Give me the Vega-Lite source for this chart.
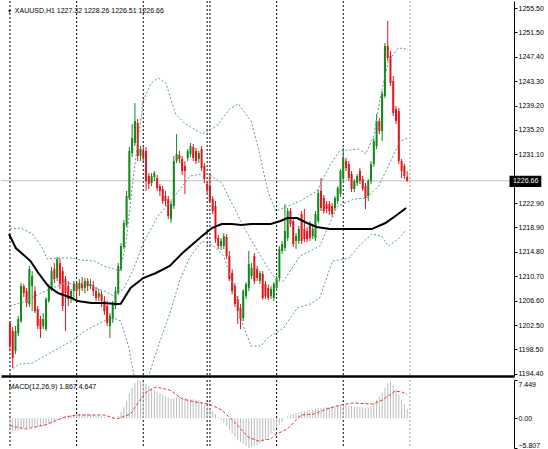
{
"$schema":"https://vega.github.io/schema/vega-lite/v6.json",
"padding":0,
"background":"white",
"spacing":2,
"config":{"view":{"stroke":null},"axis":{"labelFont":"Liberation Sans","labelFontSize":7,"labelColor":"#000000","tickColor":"#000000","domainColor":"#000000","grid":false,"title":null,"labelOverlap":false,"labelSeparation":0}},
"datasets":{
"bars":[
{"i":0,"o":1202.88,"h":1203.21,"l":1198.19,"c":1199.03,"m":-2.3},
{"i":1,"o":1201.54,"h":1202.21,"l":1195.35,"c":1197.02,"m":-2.4},
{"i":2,"o":1198.19,"h":1202.37,"l":1197.69,"c":1201.54,"m":-2.4},
{"i":3,"o":1201.20,"h":1204.05,"l":1200.70,"c":1203.54,"m":-2.3},
{"i":4,"o":1203.21,"h":1209.56,"l":1202.88,"c":1209.06,"m":-2.2},
{"i":5,"o":1209.06,"h":1209.40,"l":1207.22,"c":1207.89,"m":-2.0},
{"i":6,"o":1208.23,"h":1208.73,"l":1205.55,"c":1206.22,"m":-1.9},
{"i":7,"o":1206.05,"h":1212.41,"l":1205.55,"c":1211.90,"m":-1.8},
{"i":8,"o":1209.06,"h":1211.57,"l":1204.88,"c":1210.73,"m":-1.7},
{"i":9,"o":1208.23,"h":1209.06,"l":1204.55,"c":1204.88,"m":-1.6},
{"i":10,"o":1205.22,"h":1205.72,"l":1201.87,"c":1202.37,"m":-1.6},
{"i":11,"o":1203.54,"h":1204.05,"l":1200.37,"c":1201.87,"m":-1.6},
{"i":12,"o":1202.37,"h":1204.55,"l":1201.87,"c":1203.54,"m":-1.5},
{"i":13,"o":1201.87,"h":1207.22,"l":1201.54,"c":1206.89,"m":-1.3},
{"i":14,"o":1206.55,"h":1209.40,"l":1206.22,"c":1209.06,"m":-1.1},
{"i":15,"o":1208.56,"h":1212.24,"l":1208.23,"c":1211.57,"m":-0.9},
{"i":16,"o":1211.90,"h":1212.91,"l":1209.56,"c":1210.23,"m":-0.6},
{"i":17,"o":1210.40,"h":1213.91,"l":1209.90,"c":1213.58,"m":-0.3},
{"i":18,"o":1212.91,"h":1213.74,"l":1208.56,"c":1209.40,"m":0.0},
{"i":19,"o":1211.57,"h":1212.24,"l":1204.88,"c":1205.72,"m":0.2},
{"i":20,"o":1210.23,"h":1210.73,"l":1201.54,"c":1207.89,"m":0.4},
{"i":21,"o":1209.06,"h":1209.90,"l":1205.72,"c":1206.89,"m":0.5},
{"i":22,"o":1206.89,"h":1208.56,"l":1206.22,"c":1208.23,"m":0.6},
{"i":23,"o":1208.23,"h":1209.90,"l":1206.55,"c":1209.40,"m":0.7},
{"i":24,"o":1209.40,"h":1209.90,"l":1206.55,"c":1208.23,"m":0.8},
{"i":25,"o":1208.56,"h":1210.23,"l":1207.39,"c":1209.56,"m":0.8},
{"i":26,"o":1209.56,"h":1210.57,"l":1208.23,"c":1208.73,"m":0.8},
{"i":27,"o":1208.73,"h":1210.40,"l":1207.89,"c":1209.90,"m":0.8},
{"i":28,"o":1209.90,"h":1210.40,"l":1208.23,"c":1209.06,"m":0.8},
{"i":29,"o":1209.06,"h":1210.23,"l":1208.56,"c":1209.40,"m":0.7},
{"i":30,"o":1209.23,"h":1209.90,"l":1207.39,"c":1208.23,"m":0.7},
{"i":31,"o":1208.23,"h":1208.90,"l":1206.55,"c":1207.06,"m":0.6},
{"i":32,"o":1207.22,"h":1208.56,"l":1206.55,"c":1207.89,"m":0.5},
{"i":33,"o":1207.72,"h":1208.23,"l":1205.55,"c":1206.55,"m":0.4},
{"i":34,"o":1206.55,"h":1207.39,"l":1204.21,"c":1204.88,"m":0.3},
{"i":35,"o":1205.72,"h":1206.55,"l":1202.37,"c":1202.88,"m":0.1},
{"i":36,"o":1202.37,"h":1204.55,"l":1200.37,"c":1204.05,"m":-0.1},
{"i":37,"o":1203.54,"h":1206.55,"l":1202.88,"c":1206.05,"m":-0.2},
{"i":38,"o":1205.72,"h":1208.90,"l":1205.22,"c":1208.23,"m":0.0},
{"i":39,"o":1207.89,"h":1212.91,"l":1207.56,"c":1212.41,"m":0.5},
{"i":40,"o":1211.90,"h":1216.25,"l":1211.57,"c":1215.75,"m":1.2},
{"i":41,"o":1215.58,"h":1220.10,"l":1215.25,"c":1219.60,"m":2.2},
{"i":42,"o":1219.26,"h":1224.95,"l":1218.93,"c":1224.11,"m":3.4},
{"i":43,"o":1223.78,"h":1232.31,"l":1223.44,"c":1231.64,"m":4.8},
{"i":44,"o":1231.30,"h":1236.15,"l":1230.63,"c":1233.81,"m":5.9},
{"i":45,"o":1232.97,"h":1239.66,"l":1232.47,"c":1236.65,"m":6.8},
{"i":46,"o":1236.32,"h":1236.99,"l":1229.96,"c":1230.80,"m":7.449},
{"i":47,"o":1230.80,"h":1232.47,"l":1229.96,"c":1231.97,"m":7.3},
{"i":48,"o":1231.64,"h":1232.31,"l":1229.96,"c":1230.47,"m":7.0},
{"i":49,"o":1231.64,"h":1232.31,"l":1224.95,"c":1226.62,"m":6.7},
{"i":50,"o":1227.46,"h":1227.96,"l":1225.28,"c":1226.12,"m":6.3},
{"i":51,"o":1226.29,"h":1227.96,"l":1225.78,"c":1227.46,"m":5.9},
{"i":52,"o":1227.29,"h":1228.29,"l":1226.62,"c":1227.96,"m":5.5},
{"i":53,"o":1227.12,"h":1227.62,"l":1224.95,"c":1225.45,"m":5.2},
{"i":54,"o":1225.78,"h":1226.12,"l":1224.11,"c":1224.95,"m":4.9},
{"i":55,"o":1225.28,"h":1225.78,"l":1222.77,"c":1223.28,"m":4.6},
{"i":56,"o":1224.11,"h":1224.95,"l":1222.44,"c":1223.28,"m":4.3},
{"i":57,"o":1223.61,"h":1224.11,"l":1220.27,"c":1220.77,"m":4.0},
{"i":58,"o":1220.27,"h":1223.28,"l":1219.60,"c":1222.77,"m":3.8},
{"i":59,"o":1222.44,"h":1230.80,"l":1221.94,"c":1229.96,"m":3.9},
{"i":60,"o":1229.96,"h":1234.48,"l":1229.63,"c":1231.14,"m":4.2},
{"i":61,"o":1230.97,"h":1231.64,"l":1229.63,"c":1230.30,"m":4.3},
{"i":62,"o":1230.30,"h":1230.80,"l":1227.62,"c":1228.29,"m":4.1},
{"i":63,"o":1229.13,"h":1229.96,"l":1224.45,"c":1228.29,"m":3.9},
{"i":64,"o":1230.47,"h":1231.97,"l":1229.96,"c":1231.64,"m":3.8},
{"i":65,"o":1231.14,"h":1232.97,"l":1230.63,"c":1232.47,"m":3.8},
{"i":66,"o":1232.31,"h":1232.81,"l":1229.96,"c":1230.47,"m":3.7},
{"i":67,"o":1231.64,"h":1232.14,"l":1229.46,"c":1229.96,"m":3.6},
{"i":68,"o":1230.30,"h":1231.64,"l":1229.63,"c":1231.30,"m":3.4},
{"i":69,"o":1231.97,"h":1232.47,"l":1228.29,"c":1228.79,"m":3.1},
{"i":70,"o":1229.13,"h":1229.63,"l":1226.29,"c":1226.95,"m":2.7},
{"i":71,"o":1226.12,"h":1226.62,"l":1224.61,"c":1225.28,"m":2.3},
{"i":72,"o":1225.78,"h":1227.96,"l":1222.94,"c":1223.28,"m":1.9},
{"i":73,"o":1223.61,"h":1224.11,"l":1221.10,"c":1221.60,"m":1.4},
{"i":74,"o":1222.44,"h":1223.28,"l":1216.25,"c":1216.92,"m":0.8},
{"i":75,"o":1217.09,"h":1217.59,"l":1215.25,"c":1215.75,"m":0.2},
{"i":76,"o":1215.75,"h":1217.09,"l":1215.08,"c":1216.59,"m":-0.4},
{"i":77,"o":1215.75,"h":1217.92,"l":1215.25,"c":1217.42,"m":-0.9},
{"i":78,"o":1217.26,"h":1217.76,"l":1213.58,"c":1214.08,"m":-1.5},
{"i":79,"o":1214.08,"h":1214.92,"l":1209.90,"c":1210.23,"m":-2.3},
{"i":80,"o":1211.24,"h":1211.90,"l":1207.72,"c":1208.23,"m":-3.0},
{"i":81,"o":1209.06,"h":1209.56,"l":1205.55,"c":1206.05,"m":-3.6},
{"i":82,"o":1206.89,"h":1207.39,"l":1202.71,"c":1204.88,"m":-4.2},
{"i":83,"o":1205.38,"h":1206.05,"l":1201.87,"c":1203.54,"m":-4.7},
{"i":84,"o":1203.71,"h":1208.56,"l":1203.21,"c":1208.23,"m":-5.1},
{"i":85,"o":1207.39,"h":1209.73,"l":1206.89,"c":1209.40,"m":-5.4},
{"i":86,"o":1208.73,"h":1214.92,"l":1208.23,"c":1212.74,"m":-5.807},
{"i":87,"o":1210.73,"h":1212.91,"l":1210.23,"c":1212.07,"m":-5.6},
{"i":88,"o":1214.08,"h":1214.58,"l":1209.40,"c":1209.90,"m":-5.4},
{"i":89,"o":1211.90,"h":1212.41,"l":1209.90,"c":1210.40,"m":-5.2},
{"i":90,"o":1209.90,"h":1211.57,"l":1209.40,"c":1211.24,"m":-4.9},
{"i":91,"o":1211.07,"h":1211.57,"l":1206.72,"c":1207.06,"m":-4.6},
{"i":92,"o":1209.40,"h":1209.90,"l":1206.89,"c":1207.39,"m":-4.2},
{"i":93,"o":1208.73,"h":1209.23,"l":1206.72,"c":1207.06,"m":-3.7},
{"i":94,"o":1207.39,"h":1209.06,"l":1206.89,"c":1208.56,"m":-3.1},
{"i":95,"o":1207.06,"h":1209.73,"l":1206.55,"c":1209.40,"m":-2.5},
{"i":96,"o":1208.73,"h":1210.73,"l":1208.23,"c":1210.40,"m":-1.9},
{"i":97,"o":1210.40,"h":1215.75,"l":1209.90,"c":1215.25,"m":-1.3},
{"i":98,"o":1214.92,"h":1216.59,"l":1214.41,"c":1216.09,"m":-0.7},
{"i":99,"o":1215.42,"h":1222.77,"l":1214.92,"c":1218.26,"m":-0.1},
{"i":100,"o":1217.09,"h":1222.11,"l":1216.59,"c":1221.60,"m":0.4},
{"i":101,"o":1221.60,"h":1222.11,"l":1218.93,"c":1219.43,"m":0.6},
{"i":102,"o":1219.93,"h":1220.43,"l":1215.58,"c":1216.09,"m":0.8},
{"i":103,"o":1216.59,"h":1217.92,"l":1215.25,"c":1217.42,"m":1.0},
{"i":104,"o":1216.59,"h":1219.10,"l":1216.09,"c":1218.59,"m":1.1},
{"i":105,"o":1221.10,"h":1221.60,"l":1216.09,"c":1216.59,"m":1.3},
{"i":106,"o":1218.59,"h":1221.94,"l":1216.42,"c":1216.92,"m":1.4},
{"i":107,"o":1218.26,"h":1218.93,"l":1216.42,"c":1216.92,"m":1.5},
{"i":108,"o":1219.43,"h":1219.93,"l":1216.59,"c":1217.09,"m":1.6},
{"i":109,"o":1217.42,"h":1219.10,"l":1216.92,"c":1218.59,"m":1.7},
{"i":110,"o":1217.09,"h":1221.60,"l":1216.59,"c":1221.10,"m":1.8},
{"i":111,"o":1219.93,"h":1225.12,"l":1219.60,"c":1224.61,"m":1.9},
{"i":112,"o":1224.95,"h":1227.12,"l":1221.60,"c":1222.11,"m":2.0},
{"i":113,"o":1223.78,"h":1224.28,"l":1221.10,"c":1221.60,"m":2.1},
{"i":114,"o":1222.77,"h":1223.28,"l":1221.27,"c":1221.94,"m":2.2},
{"i":115,"o":1222.77,"h":1223.28,"l":1220.93,"c":1221.60,"m":2.2},
{"i":116,"o":1222.44,"h":1222.94,"l":1220.60,"c":1221.10,"m":2.3},
{"i":117,"o":1222.11,"h":1224.11,"l":1221.60,"c":1223.78,"m":2.3},
{"i":118,"o":1223.28,"h":1225.78,"l":1222.77,"c":1225.45,"m":2.4},
{"i":119,"o":1224.45,"h":1228.63,"l":1223.95,"c":1228.29,"m":2.5},
{"i":120,"o":1227.12,"h":1232.14,"l":1226.62,"c":1230.47,"m":2.6},
{"i":121,"o":1229.96,"h":1230.47,"l":1228.29,"c":1228.79,"m":2.6},
{"i":122,"o":1229.46,"h":1229.96,"l":1226.62,"c":1227.12,"m":2.5},
{"i":123,"o":1227.79,"h":1228.29,"l":1224.78,"c":1225.28,"m":2.4},
{"i":124,"o":1225.28,"h":1226.95,"l":1224.78,"c":1226.62,"m":2.4},
{"i":125,"o":1226.29,"h":1227.79,"l":1225.78,"c":1227.46,"m":2.3},
{"i":126,"o":1228.29,"h":1228.79,"l":1226.12,"c":1226.62,"m":2.3},
{"i":127,"o":1226.95,"h":1227.46,"l":1224.95,"c":1225.28,"m":2.2},
{"i":128,"o":1225.78,"h":1226.29,"l":1221.94,"c":1223.78,"m":2.1},
{"i":129,"o":1224.11,"h":1226.95,"l":1223.28,"c":1226.62,"m":2.1},
{"i":130,"o":1226.62,"h":1229.96,"l":1226.12,"c":1229.46,"m":2.3},
{"i":131,"o":1229.46,"h":1233.81,"l":1228.96,"c":1233.31,"m":2.9},
{"i":132,"o":1232.47,"h":1237.82,"l":1231.97,"c":1236.65,"m":3.6},
{"i":133,"o":1236.65,"h":1237.16,"l":1234.48,"c":1234.98,"m":4.2},
{"i":134,"o":1234.98,"h":1241.67,"l":1233.31,"c":1241.17,"m":5.0},
{"i":135,"o":1240.83,"h":1249.70,"l":1240.50,"c":1249.20,"m":6.0},
{"i":136,"o":1249.20,"h":1253.38,"l":1246.69,"c":1247.19,"m":6.8},
{"i":137,"o":1247.52,"h":1248.36,"l":1242.51,"c":1243.01,"m":7.1},
{"i":138,"o":1243.34,"h":1244.18,"l":1237.49,"c":1237.99,"m":6.5},
{"i":139,"o":1238.66,"h":1239.16,"l":1236.15,"c":1236.65,"m":5.6},
{"i":140,"o":1238.33,"h":1238.83,"l":1229.46,"c":1229.96,"m":4.6},
{"i":141,"o":1229.96,"h":1230.30,"l":1227.12,"c":1228.29,"m":3.6},
{"i":142,"o":1229.13,"h":1229.46,"l":1226.95,"c":1227.46,"m":2.7},
{"i":143,"o":1227.32,"h":1228.26,"l":1226.51,"c":1226.66,"m":1.867}
],
"ma":[
{"i":-0.35,"v":1217.76},{"i":2.12,"v":1215.42},{"i":7.41,"v":1213.24},{"i":10.24,"v":1211.24},{"i":13.77,"v":1209.06},{"i":17.3,"v":1207.89},{"i":22.24,"v":1207.06},{"i":24.36,"v":1206.55},{"i":29.3,"v":1206.22},{"i":33.89,"v":1206.22},{"i":38.48,"v":1206.05},{"i":39.9,"v":1206.1},{"i":43.42,"v":1208.73},{"i":48.0,"v":1210.4},{"i":52.59,"v":1211.24},{"i":57.54,"v":1212.41},{"i":62.13,"v":1214.58},{"i":69.18,"v":1217.42},{"i":72.72,"v":1218.76},{"i":76.24,"v":1219.43},{"i":79.77,"v":1219.43},{"i":83.3,"v":1219.26},{"i":86.83,"v":1219.43},{"i":93.89,"v":1219.43},{"i":97.42,"v":1219.93},{"i":99.89,"v":1220.43},{"i":103.42,"v":1220.43},{"i":106.95,"v":1219.6},{"i":110.48,"v":1218.93},{"i":115.07,"v":1218.59},{"i":121.07,"v":1218.59},{"i":130.25,"v":1218.59},{"i":135.19,"v":1219.6},{"i":139.78,"v":1221.1},{"i":142.61,"v":1222.11}
],
"bb":[
{"b":"u","i":0,"v":1218.59},{"b":"u","i":3.88,"v":1218.76},{"b":"u","i":8.12,"v":1217.76},{"b":"u","i":11.65,"v":1215.42},{"b":"u","i":13.41,"v":1213.58},{"b":"u","i":17.3,"v":1213.74},{"b":"u","i":22.24,"v":1213.74},{"b":"u","i":25.77,"v":1213.41},{"b":"u","i":30.36,"v":1213.24},{"b":"u","i":33.89,"v":1212.41},{"b":"u","i":37.42,"v":1211.9},{"b":"u","i":39.53,"v":1211.57},{"b":"u","i":41.65,"v":1215.75},{"b":"u","i":44.48,"v":1227.46},{"b":"u","i":48.01,"v":1240.0},{"b":"u","i":50.83,"v":1243.01},{"b":"u","i":53.3,"v":1243.84},{"b":"u","i":56.12,"v":1243.01},{"b":"u","i":59.65,"v":1237.82},{"b":"u","i":62.83,"v":1236.32},{"b":"u","i":69.18,"v":1234.48},{"b":"u","i":74.48,"v":1235.82},{"b":"u","i":79.07,"v":1238.66},{"b":"u","i":82.24,"v":1239.5},{"b":"u","i":86.83,"v":1236.65},{"b":"u","i":89.66,"v":1231.64},{"b":"u","i":92.83,"v":1224.95},{"b":"u","i":95.66,"v":1221.6},{"b":"u","i":98.48,"v":1222.11},{"b":"u","i":104.48,"v":1223.28},{"b":"u","i":110.48,"v":1224.95},{"b":"u","i":115.07,"v":1229.13},{"b":"u","i":118.6,"v":1231.64},{"b":"u","i":125.66,"v":1231.97},{"b":"u","i":128.13,"v":1231.14},{"b":"u","i":130.96,"v":1234.15},{"b":"u","i":133.43,"v":1240.83},{"b":"u","i":136.25,"v":1246.69},{"b":"u","i":139.78,"v":1248.86},{"b":"u","i":143.31,"v":1248.69},
{"b":"m","i":0,"v":1205.72},{"b":"m","i":5.65,"v":1206.55},{"b":"m","i":12.71,"v":1208.23},{"b":"m","i":19.77,"v":1209.56},{"b":"m","i":26.83,"v":1209.4},{"b":"m","i":33.89,"v":1208.23},{"b":"m","i":37.42,"v":1207.39},{"b":"m","i":40.95,"v":1208.56},{"b":"m","i":44.48,"v":1211.9},{"b":"m","i":48.01,"v":1216.25},{"b":"m","i":53.3,"v":1220.77},{"b":"m","i":57.89,"v":1223.28},{"b":"m","i":64.95,"v":1227.46},{"b":"m","i":70.95,"v":1227.96},{"b":"m","i":76.24,"v":1226.29},{"b":"m","i":84.36,"v":1218.76},{"b":"m","i":92.83,"v":1212.07},{"b":"m","i":96.36,"v":1209.9},{"b":"m","i":98.48,"v":1209.9},{"b":"m","i":104.48,"v":1214.08},{"b":"m","i":111.54,"v":1215.75},{"b":"m","i":117.9,"v":1222.44},{"b":"m","i":123.9,"v":1223.61},{"b":"m","i":128.48,"v":1223.78},{"b":"m","i":132.72,"v":1225.78},{"b":"m","i":136.25,"v":1229.13},{"b":"m","i":140.49,"v":1233.31},{"b":"m","i":143.31,"v":1233.81},
{"b":"l","i":0,"v":1194.85},{"b":"l","i":3.18,"v":1196.02},{"b":"l","i":8.12,"v":1196.19},{"b":"l","i":13.77,"v":1197.69},{"b":"l","i":22.24,"v":1199.87},{"b":"l","i":26.83,"v":1201.54},{"b":"l","i":33.89,"v":1203.21},{"b":"l","i":37.42,"v":1203.71},{"b":"l","i":39.89,"v":1203.21},{"b":"l","i":42.71,"v":1199.03},{"b":"l","i":44.48,"v":1194.52},{"b":"l","i":46.24,"v":1191.5},{"b":"l","i":48.71,"v":1192.34},{"b":"l","i":50.83,"v":1195.35},{"b":"l","i":54.01,"v":1199.87},{"b":"l","i":57.54,"v":1204.38},{"b":"l","i":61.07,"v":1209.9},{"b":"l","i":64.6,"v":1213.74},{"b":"l","i":69.18,"v":1216.59},{"b":"l","i":73.42,"v":1215.75},{"b":"l","i":76.95,"v":1214.08},{"b":"l","i":80.48,"v":1209.06},{"b":"l","i":84.01,"v":1202.37},{"b":"l","i":86.83,"v":1199.03},{"b":"l","i":90.36,"v":1199.03},{"b":"l","i":92.83,"v":1200.37},{"b":"l","i":98.48,"v":1202.04},{"b":"l","i":103.42,"v":1205.38},{"b":"l","i":108.01,"v":1206.05},{"b":"l","i":111.54,"v":1207.06},{"b":"l","i":116.13,"v":1213.24},{"b":"l","i":122.13,"v":1213.74},{"b":"l","i":125.66,"v":1215.75},{"b":"l","i":130.25,"v":1217.76},{"b":"l","i":133.78,"v":1217.42},{"b":"l","i":136.25,"v":1215.75},{"b":"l","i":139.78,"v":1216.92},{"b":"l","i":142.61,"v":1218.43}
],
"sig":[
{"i":0,"v":-1.45},{"i":5.65,"v":-2.1},{"i":12.71,"v":-1.33},{"i":19.77,"v":0.23},{"i":24.36,"v":0.62},{"i":33.89,"v":0.62},{"i":38.48,"v":-0.16},{"i":43.42,"v":0.82},{"i":45.54,"v":2.57},{"i":49.07,"v":5.1},{"i":52.59,"v":6.08},{"i":57.54,"v":5.5},{"i":62.13,"v":3.74},{"i":66.72,"v":3.16},{"i":71.66,"v":2.77},{"i":76.24,"v":1.6},{"i":80.83,"v":-0.74},{"i":85.77,"v":-3.66},{"i":89.3,"v":-4.44},{"i":93.89,"v":-4.05},{"i":95.3,"v":-3.27},{"i":99.89,"v":-2.1},{"i":104.83,"v":0.62},{"i":109.42,"v":0.82},{"i":114.01,"v":1.79},{"i":118.95,"v":2.57},{"i":123.54,"v":2.96},{"i":130.6,"v":2.77},{"i":134.13,"v":3.55},{"i":136.61,"v":4.52},{"i":138.72,"v":5.3},{"i":141.19,"v":5.1},{"i":143,"v":4.647}
],
"seps":[
{"i":0,"k":"d"},{"i":24,"k":"d"},{"i":48,"k":"d"},{"i":71,"k":"d"},{"i":72,"k":"d"},{"i":96,"k":"d"},{"i":120,"k":"d"},{"i":144,"k":"g"}
]
},
"vconcat":[
{"width":513,"height":375,
"layer":[
{"data":{"name":"seps"},"mark":{"type":"rule","strokeDash":[2,2],"strokeWidth":1},
"encoding":{"x":{"field":"i","type":"quantitative","scale":{"domain":[-1.412,179.67],"nice":false,"zero":false},"axis":{"orient":"bottom","labels":false,"ticks":false,"domain":true,"domainWidth":2.5}},
"color":{"condition":{"test":"datum.k==='g'","value":"#a0a0a0"},"value":"#000000"}}},
{"data":{"values":[{"p":1226.66}]},"mark":{"type":"rule","color":"#c0c0c0","strokeWidth":1},"encoding":{"y":{"field":"p","type":"quantitative","scale":{"domain":[1194.02,1256.72],"nice":false,"zero":false},"axis":{"orient":"right","values":[1255.5,1251.5,1247.4,1243.3,1239.2,1235.2,1231.1,1222.9,1218.9,1214.8,1210.7,1206.6,1202.5,1198.5,1194.4],"tickCount":40,"format":".2f","tickSize":3,"labelPadding":1,"labelFlush":false,"labelOverlap":false,"domainWidth":1}}}},
{"data":{"name":"bars"},"mark":{"type":"rule","strokeWidth":1},
"encoding":{"x":{"field":"i","type":"quantitative"},
"y":{"field":"l","type":"quantitative"},
"y2":{"field":"h"},
"color":{"condition":{"test":"datum.c>=datum.o","value":"#12881a"},"value":"#e3151c"}}},
{"data":{"name":"bars"},"mark":{"type":"bar","size":2},
"encoding":{"x":{"field":"i","type":"quantitative"},"y":{"field":"o","type":"quantitative"},"y2":{"field":"c"},
"color":{"condition":{"test":"datum.c>=datum.o","value":"#12881a"},"value":"#e3151c"}}},
{"data":{"name":"bb"},"mark":{"type":"line","strokeDash":[2,2],"strokeWidth":1,"color":"#5a9c92","clip":true},
"encoding":{"x":{"field":"i","type":"quantitative"},"y":{"field":"v","type":"quantitative"},"detail":{"field":"b"}}},
{"data":{"name":"ma"},"mark":{"type":"line","strokeWidth":2,"color":"#000000","clip":true},
"encoding":{"x":{"field":"i","type":"quantitative"},"y":{"field":"v","type":"quantitative"}}},
{"data":{"values":[{"t":"XAUUSD,H1  1227.32 1228.26 1226.51 1226.66"}]},"mark":{"type":"text","align":"left","baseline":"middle","font":"Liberation Sans","fontSize":7,"color":"#000000"},
"encoding":{"x":{"datum":1.76},"y":{"datum":1255.13},"text":{"field":"t"}}},
{"data":{"values":[{"s":1}]},"mark":{"type":"point","shape":"triangle-down","filled":true,"size":10,"color":"#000000","opacity":1},
"encoding":{"x":{"datum":-0.1},"y":{"datum":1255.0}}},
{"data":{"values":[{"p":1226.66}]},"mark":{"type":"rect","color":"#000000"},
"encoding":{"x":{"datum":179.85},"x2":{"datum":191.3},"y":{"datum":1227.5},"y2":{"datum":1225.6}}},
{"data":{"values":[{"p":1226.66}]},"mark":{"type":"text","align":"left","baseline":"middle","font":"Liberation Sans","fontSize":7,"color":"#ffffff","dy":0.5},
"encoding":{"x":{"datum":181.1},"y":{"field":"p","type":"quantitative"},"text":{"field":"p","type":"quantitative","format":".2f"}}}
]},
{"width":513,"height":68,
"layer":[
{"data":{"name":"seps"},"mark":{"type":"rule","strokeDash":[2,2],"strokeWidth":1},
"encoding":{"x":{"field":"i","type":"quantitative","scale":{"domain":[-1.412,179.67],"nice":false,"zero":false},"axis":null},
"color":{"condition":{"test":"datum.k==='g'","value":"#a0a0a0"},"value":"#000000"}}},
{"data":{"name":"bars"},"mark":{"type":"bar","size":1,"color":"#bcbcbc"},
"encoding":{"x":{"field":"i","type":"quantitative"},
"y":{"field":"m","type":"quantitative","scale":{"domain":[-5.807,7.449],"nice":false,"zero":false},"axis":{"orient":"right","values":[7.449,0,-5.807],"tickCount":10,"labelExpr":"datum.value === 0 ? '0.00' : format(datum.value, '.3f')","tickSize":3,"labelPadding":1,"labelFlush":true,"labelFlushOffset":0,"labelOverlap":false}},
"y2":{"datum":0}}},
{"data":{"name":"sig"},"mark":{"type":"line","strokeDash":[3,2],"strokeWidth":1,"color":"#d9383a","clip":true},
"encoding":{"x":{"field":"i","type":"quantitative"},"y":{"field":"v","type":"quantitative"}}},
{"data":{"values":[{"t":"MACD(12,26,9) 1.867 4.647"}]},"mark":{"type":"text","align":"left","baseline":"middle","font":"Liberation Sans","fontSize":7,"color":"#000000"},
"encoding":{"x":{"datum":-0.46},"y":{"datum":6.1},"text":{"field":"t"}}}
]}
]
}
